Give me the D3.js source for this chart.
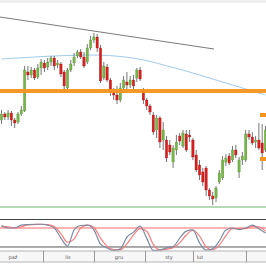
<!DOCTYPE html>
<html>
<head>
<meta charset="utf-8">
<script src="https://cdn.jsdelivr.net/npm/d3@7"></script>
<style>
  html, body { margin: 0; padding: 0; background: #fff; }
  svg { display: block; }
</style>
</head>
<body>
<div id="chart"></div>
<script>
// candle data (price units), one entry per bar
var opens  = [180,186,183,187,180,178,186,189,228,225,230,223,232,237,233,238,242,235,236,228,212,230,237,244,248,243,238,252,260,263,252,222,233,220,208,205,200,212,218,215,220,222,230,210,200,194,185,170,182,160,160,155,138,150,164,154,166,165,160,145,135,128,132,110,104,102,118,122,138,144,140,150,128,140,140,166,163,158,160,157,150];
var highs  = [190,188,190,189,182,188,194,234,234,233,232,236,241,240,242,244,244,240,238,230,232,240,247,250,251,248,256,264,267,266,255,238,236,222,212,214,217,224,228,224,225,232,233,212,202,196,188,185,184,178,164,160,155,165,167,170,170,170,162,150,140,132,134,112,108,114,130,144,146,147,154,155,143,148,170,170,168,164,177,176,174];
var lows   = [176,180,180,174,172,176,184,188,220,222,220,221,225,228,230,234,230,232,223,208,208,228,234,242,241,232,236,250,257,248,217,220,218,204,200,196,198,208,210,212,211,218,219,196,190,185,165,162,152,150,138,145,132,145,155,152,148,158,140,128,120,114,104,100,95,98,116,120,134,135,138,142,122,135,138,160,155,152,150,130,148];
var closes = [186,183,187,180,177,186,190,230,225,230,222,232,238,232,238,242,234,237,226,214,230,236,243,248,243,234,252,260,263,252,219,234,220,208,205,200,212,220,215,220,214,230,221,200,194,188,168,182,158,170,142,148,152,158,159,167,150,163,143,130,125,118,110,104,101,112,127,140,142,137,150,145,140,144,166,163,157,160,152,147,170];

// moving average, sampled every 5 bars
var maIdx  = [0,5,10,15,20,25,30,35,40,45,50,55,60,65,70,75,80];
var maVals = [241,242,243,244,244.5,245,245,244,242,239,234,230,225,220,215,210,205];

// levels
var resistance = 209;
var trendline = [{ i: -0.5, p: 283 }, { i: 64.4, p: 251 }];
var supportLine = 93;
var rightMarks = [185, 141];

// stochastic, sampled every 2 bars
var stochIdx = d3.range(0, 81, 2);
var stochK = [88,80,80,89,91,92,92,89,80,48,23,74,88,89,74,29,17,9,14,51,67,86,48,9,10,17,21,48,70,74,33,10,14,39,74,80,75,80,89,78,64];
var stochD = [85,84,80,84,90,91,92,91,85,62,35,45,80,89,82,48,22,12,11,30,58,78,70,28,10,13,18,33,58,73,55,20,11,26,56,78,78,78,85,84,70];

// time axis
var tickSeps = [43, 94, 145, 193, 246];
var monthLabels = ["paź", "lis", "gru", "sty", "lut"];
var labelPos = [13, 68, 119, 169, 200];

var W = 266, H = 266;

var svg = d3.select('#chart')
  .append('svg')
    .attr('width', W)
    .attr('height', H);

var x = d3.scaleLinear().domain([0, 80]).range([1.5, 265.5]);
var y = d3.scaleLinear().domain([300, 90]).range([0, 210]);
var ys = d3.scaleLinear().domain([0, 100]).range([253.3, 221.7]);

// top strip
svg.append('rect').attr('x', 0).attr('y', 0).attr('width', W).attr('height', 3).attr('fill', '#eeeeee');

// trend line
svg.append('line')
  .attr('x1', x(trendline[0].i)).attr('y1', y(trendline[0].p))
  .attr('x2', x(trendline[1].i)).attr('y2', y(trendline[1].p))
  .attr('stroke', '#7a7a7a').attr('stroke-width', 1);

// moving average
svg.append('path')
  .datum(maIdx.map(function (d, k) { return [d, maVals[k]]; }))
  .attr('fill', 'none')
  .attr('stroke', '#9fcbea')
  .attr('stroke-width', 1)
  .attr('d', d3.line().x(d => x(d[0])).y(d => y(d[1])).curve(d3.curveBasis));

// candles
var bars = svg.append('g');
opens.forEach(function (o, i) {
  var c = closes[i];
  var up = c >= o;
  bars.append('line')
    .attr('x1', x(i)).attr('x2', x(i))
    .attr('y1', y(highs[i])).attr('y2', y(lows[i]))
    .attr('stroke', '#777').attr('stroke-width', 1);
  var top = y(Math.max(o, c)), bot = y(Math.min(o, c));
  bars.append('rect')
    .attr('x', x(i) - 1.2)
    .attr('y', top)
    .attr('width', 2.4)
    .attr('height', Math.max(1, bot - top))
    .attr('fill', up ? '#74b449' : '#d61f1f')
    .attr('stroke', up ? '#5a9236' : '#a81515')
    .attr('stroke-width', 0.3);
});

// resistance zone
svg.append('line')
  .attr('x1', 0).attr('x2', W)
  .attr('y1', y(resistance)).attr('y2', y(resistance))
  .attr('stroke', '#f7941d').attr('stroke-width', 4).attr('opacity', 0.95);

svg.selectAll('.mark')
  .data(rightMarks)
  .enter()
  .append('rect')
    .attr('x', 260).attr('y', d => y(d) - 2)
    .attr('width', 7).attr('height', 4)
    .attr('fill', '#f7941d');

// bottom green line
svg.append('line')
  .attr('x1', 0).attr('x2', W)
  .attr('y1', y(supportLine)).attr('y2', y(supportLine))
  .attr('stroke', '#9ccc9c').attr('stroke-width', 1.5);

// stochastic panel
svg.append('line').attr('x1', 0).attr('x2', W).attr('y1', 219.5).attr('y2', 219.5)
  .attr('stroke', '#444').attr('stroke-width', 1);
svg.append('line').attr('x1', 0).attr('x2', W).attr('y1', ys(80)).attr('y2', ys(80))
  .attr('stroke', '#ffb3b3').attr('stroke-width', 2);
svg.append('line').attr('x1', 0).attr('x2', W).attr('y1', ys(20)).attr('y2', ys(20))
  .attr('stroke', '#555').attr('stroke-width', 1);

var sline = d3.line().x(d => x(d[0])).y(d => ys(d[1])).curve(d3.curveMonotoneX);
svg.append('path')
  .datum(stochIdx.map((d, k) => [d, stochD[k]]))
  .attr('fill', 'none').attr('stroke', '#ff7b7b').attr('stroke-width', 1.2)
  .attr('d', sline);
svg.append('path')
  .datum(stochIdx.map((d, k) => [d, stochK[k]]))
  .attr('fill', 'none').attr('stroke', '#7d8ba3').attr('stroke-width', 1.2)
  .attr('d', sline);

// time axis strip
svg.append('rect').attr('x', -1).attr('y', 251).attr('width', W + 2).attr('height', 11)
  .attr('fill', '#f7f7f7').attr('stroke', '#b5b5b5').attr('stroke-width', 1);
svg.selectAll('.sep')
  .data(tickSeps)
  .enter()
  .append('line')
    .attr('x1', d => d + 0.5).attr('x2', d => d + 0.5)
    .attr('y1', 251).attr('y2', 262)
    .attr('stroke', '#999');
svg.selectAll('.lbl')
  .data(monthLabels)
  .enter()
  .append('text')
    .attr('x', (d, i) => labelPos[i])
    .attr('y', 259)
    .attr('text-anchor', 'middle')
    .attr('font-family', 'DejaVu Sans, sans-serif')
    .attr('font-size', 5)
    .attr('fill', '#555')
    .text(d => d);
</script>
</body>
</html>
